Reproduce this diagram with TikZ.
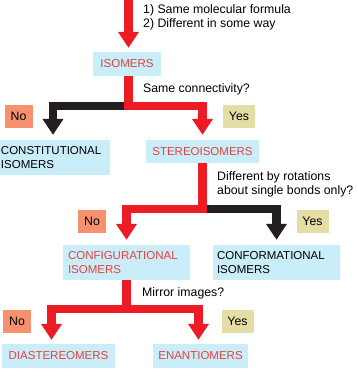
\documentclass[tikz,border=0pt]{standalone}
\usepackage{fontspec}
\setmainfont{Liberation Sans}
\usetikzlibrary{arrows.meta}
\definecolor{bred}{HTML}{ED1C24}
\definecolor{bblack}{HTML}{231F20}
\definecolor{lblue}{HTML}{C9EEFA}
\definecolor{nofill}{HTML}{F7906F}
\definecolor{yesfill}{HTML}{E4DDA5}
\definecolor{rtext}{HTML}{E8413C}
\tikzset{
  box/.style={fill=lblue, inner sep=0pt, font=\fontsize{11.5}{14}\selectfont},
  redtext/.style={text=rtext},
  nobox/.style={fill=nofill, inner sep=0pt, minimum width=28pt, minimum height=23pt, font=\fontsize{12.3}{14}\selectfont},
  yesbox/.style={fill=yesfill, inner sep=0pt, minimum width=32pt, minimum height=23pt, font=\fontsize{12.3}{14}\selectfont},
  lbl/.style={inner sep=0pt, align=left, anchor=west, font=\fontsize{12.3}{14}\selectfont},
  redarrow/.style={draw=bred, line width=8.5pt, line join=miter, -{Triangle[width=20pt,length=16pt]}},
  blackarrow/.style={draw=bblack, line width=8.5pt, line join=miter, -{Triangle[width=20pt,length=16pt]}},
}
\begin{document}
\begin{tikzpicture}[x=1pt,y=-1pt]
\useasboundingbox (0,0) rectangle (357,377);
% boxes
\node[box, redtext, minimum width=68pt, minimum height=24pt] (iso) at (127,64) {ISOMERS};
\node[box, minimum width=110pt, minimum height=35pt, align=left, text width=108pt] (const) at (55,157.5) {CONSTITUTIONAL\\ISOMERS};
\node[box, redtext, minimum width=113pt, minimum height=23pt] (stereo) at (202.5,151.5) {STEREOISOMERS};
\node[box, redtext, minimum width=127pt, minimum height=35pt, align=left, text width=117pt] (config) at (126.5,262.5) {CONFIGURATIONAL\\ISOMERS};
\node[box, minimum width=127pt, minimum height=35pt, align=left, text width=119pt] (conf) at (276.5,262.5) {CONFORMATIONAL\\ISOMERS};
\node[box, redtext, minimum width=113pt, minimum height=24pt] (dia) at (58.5,356) {DIASTEREOMERS};
\node[box, redtext, minimum width=95pt, minimum height=24pt] (enan) at (200.5,356) {ENANTIOMERS};
% yes / no
\node[nobox] (no1) at (18.5,116.5) {No};
\node[yesbox] (yes1) at (239,116.5) {Yes};
\node[nobox] (no2) at (92,221) {No};
\node[yesbox] (yes2) at (312.5,221) {Yes};
\node[nobox] (no3) at (17,321.5) {No};
\node[yesbox] (yes3) at (237.5,321.5) {Yes};
% labels
\node[lbl] (q0) at (143,17) {1) Same molecular formula\\2) Different in some way};
\node[lbl] (q1) at (143,89) {Same connectivity?};
\node[lbl] (q2) at (217,184) {Different by rotations\\about single bonds only?};
\node[lbl] (q3) at (142,293) {Mirror images?};
% connectors
\coordinate (top) at (128.5,0);
\draw[redarrow] (top) -- ([yshift=4pt]top |- iso.north);
\coordinate (j1) at (128.5,106);
\draw[blackarrow] (j1) -| ([xshift=-2pt,yshift=5pt]const.north);
\draw[redarrow] (top |- iso.south) -- (j1) -| ([yshift=5pt]stereo.north);
\coordinate (j2) at (202.5,209);
\draw[blackarrow] (j2) -| ([yshift=5pt]conf.north);
\draw[redarrow] (stereo.south) -- (j2) -| ([yshift=5pt]config.north);
\coordinate (j3) at (126.5,309);
\draw[redarrow] (j3) -| ([xshift=-7pt,yshift=4pt]dia.north);
\draw[redarrow] (config.south) -- (j3) -| ([xshift=-2pt,yshift=4pt]enan.north);
\end{tikzpicture}
\end{document}
